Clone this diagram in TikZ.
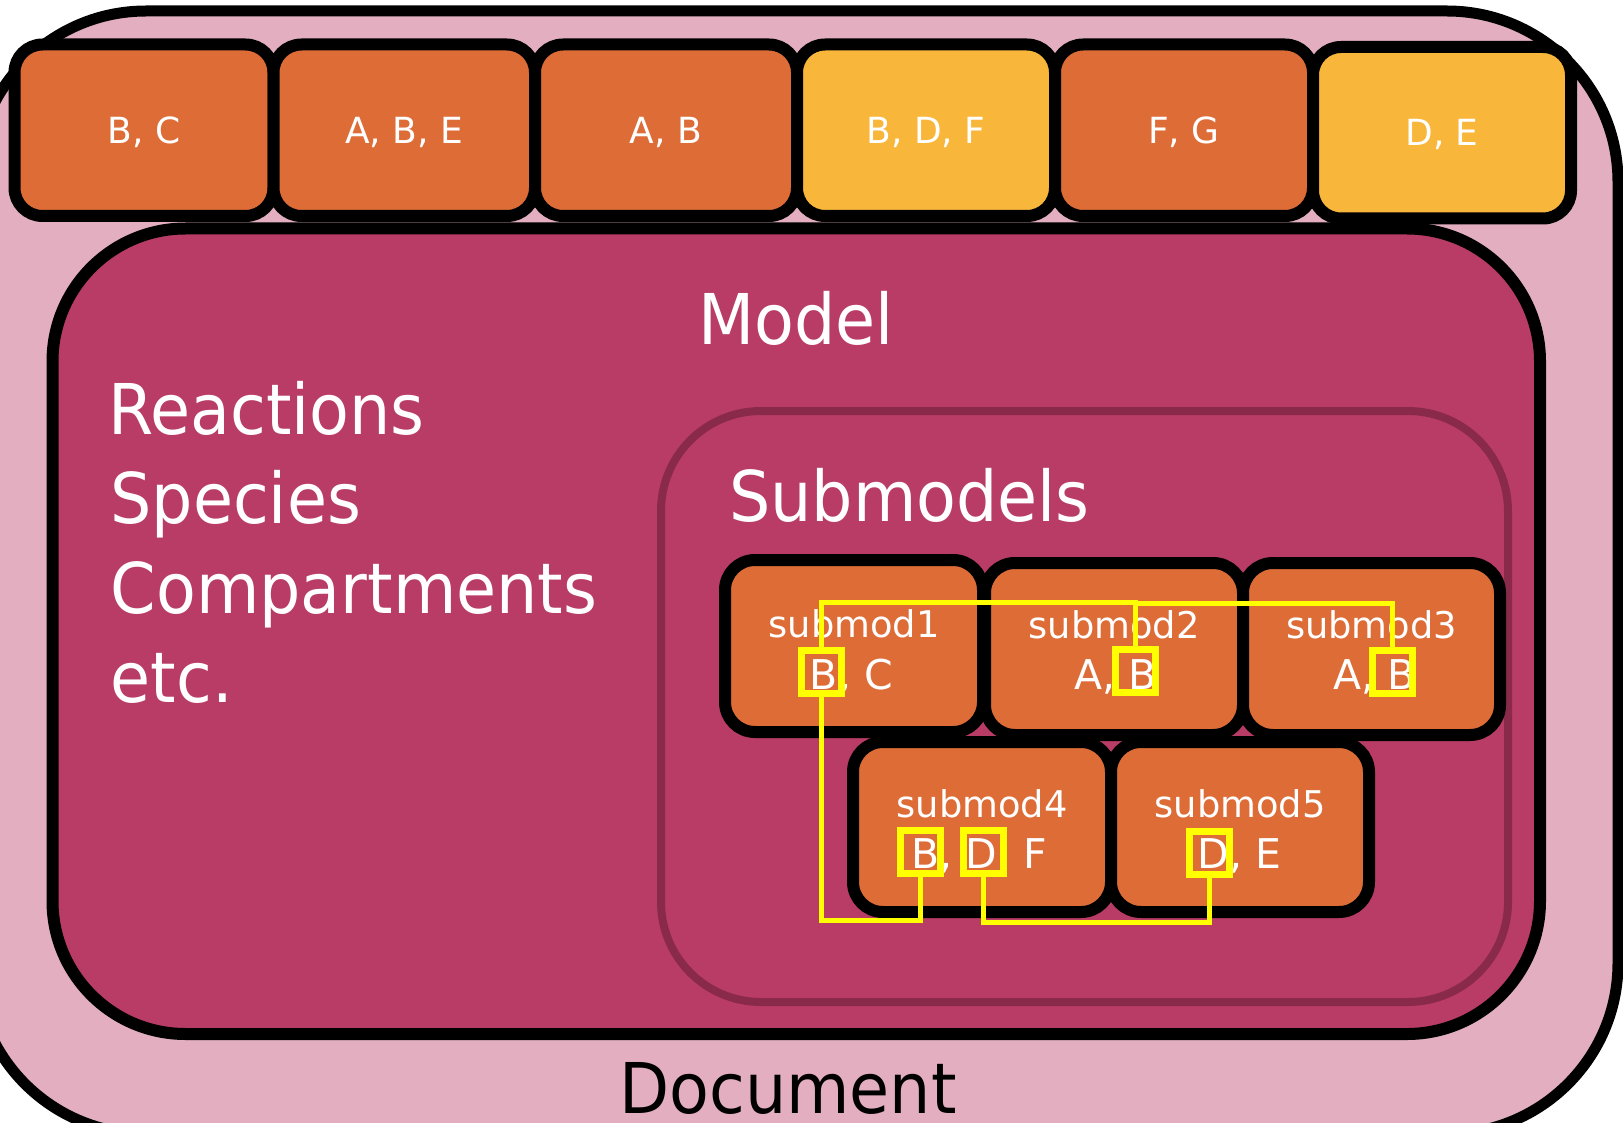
\documentclass[tikz,border=0pt]{standalone}
\usepackage{fontspec}
\newfontfamily\dvs{DejaVu Sans}
\newfontfamily\dvn[FakeStretch=0.93]{DejaVu Sans}
\usetikzlibrary{calc}
\definecolor{docpink}{RGB}{226,174,192}
\definecolor{modelred}{RGB}{185,60,102}
\definecolor{subedge}{RGB}{138,42,74}
\definecolor{orangebox}{RGB}{221,108,55}
\definecolor{yellowbox}{RGB}{248,182,58}
\definecolor{hlyellow}{RGB}{255,255,0}
\tikzset{
  container/.style={inner sep=0pt, outer sep=0pt},
  rbox/.style={draw=black, line width=6pt, rounded corners=14pt, inner sep=0pt, minimum height=85.75pt},
  topbox/.style={rbox, text=white, font=\dvs\fontsize{18pt}{20pt}\selectfont, text height=13.1pt, text depth=0pt},
  subbox/.style={rbox, rounded corners=15pt, fill=orangebox, minimum height=86pt},
  subname/.style={anchor=base, inner sep=0pt, text=white, font=\dvs\fontsize{18.4pt}{20pt}\selectfont},
  subvars/.style={anchor=base, inner sep=0pt, text=white, font=\dvs\fontsize{20.5pt}{22pt}\selectfont},
  bigtext/.style={inner sep=0pt, text=white, font=\dvn\fontsize{35pt}{42pt}\selectfont},
  hl/.style={draw=hlyellow, line width=3.5pt, minimum width=20pt, minimum height=21.5pt, inner sep=0pt},
  link/.style={draw=hlyellow, line width=2.5pt, line join=miter},
}
\begin{document}
\begin{tikzpicture}[x=0.5pt,y=-0.5pt]
\path[use as bounding box] (0,0) rectangle (1623,1123);
\clip (0,0) rectangle (1623,1123);
\fill[white] (0,0) rectangle (1623,1123);

% containers
\node[container, draw=black, line width=5.5pt, fill=docpink, rounded corners=85.5pt,
      minimum width=821.5pt, minimum height=561.5pt] (doc) at (796.5,572.5) {};
\node[container, draw=black, line width=6pt, fill=modelred, rounded corners=66.5pt,
      minimum width=743.75pt, minimum height=402.75pt] (modelbox) at (796.25,631.25) {};
\node[container, draw=subedge, line width=4pt, rounded corners=50pt,
      minimum width=423.5pt, minimum height=295.5pt] (subsbox) at (1084.5,706.5) {};

% top row
\node[topbox, fill=orangebox, minimum width=129.5pt]  (t1) at (144,130.25)    {B, C};
\node[topbox, fill=orangebox, minimum width=130.75pt] (t2) at (404.25,130.25) {A, B, E};
\node[topbox, fill=orangebox, minimum width=131pt]    (t3) at (666,130.25)    {A, B};
\node[topbox, fill=yellowbox, minimum width=129pt]    (t4) at (926,130.25)    {B, D, F};
\node[topbox, fill=orangebox, minimum width=129pt]    (t5) at (1184,130.25)   {F, G};
\node[topbox, fill=yellowbox, minimum width=129pt]    (t6) at (1442,132.75)   {D, E};

% big labels
\node[bigtext, anchor=base] (model) at (796,344) {Model};
\node[bigtext, anchor=base west] (reac) at (107.6,434) {Reactions};
\node[bigtext, anchor=base west] (spec) at (110,523) {Species};
\node[bigtext, anchor=base west] (comp) at (110.4,613) {Compartments};
\node[bigtext, anchor=base west] (etc) at (110.4,702) {etc.};
\node[bigtext, anchor=base west] (subm) at (728.8,521.5) {Submodels};
\node[bigtext, anchor=base, text=black] (doclab) at (788,1113) {Document};

% submodel boxes
\node[subbox, minimum width=129pt] (s1) at (854,646) {};
\node[subbox, minimum width=129pt] (s2) at (1114,649) {};
\node[subbox, minimum width=128.5pt] (s3) at (1371.5,649) {};
\node[subbox, minimum width=129pt, minimum height=85pt] (s4) at (982,827) {};
\node[subbox, minimum width=129pt, minimum height=85pt] (s5) at (1240,827) {};

\node[subname] (n1) at (854,637) {submod1};
\node[subname] (n2) at (1114,638.5) {submod2};
\node[subname] (n3) at (1371.5,638.5) {submod3};
\node[subname] (n4) at (982,817) {submod4};
\node[subname] (n5) at (1240,817) {submod5};

\node[subvars] (v1) at (851.4,689.5) {B, C};
\node[subvars] (v2) at (1115.8,689.5) {A, B};
\node[subvars] (v3) at (1374.3,689.5) {A, B};
\node[subvars] (v4) at (979.1,868) {B, D, F};
\node[subvars] (v5) at (1239.5,868) {D, E};

% highlights
\node[hl] (hB1) at (821,672) {};
\node[hl] (hB2) at (1135.5,671) {};
\node[hl] (hB3) at (1392,672) {};
\node[hl] (hB4) at (920.3,852) {};
\node[hl] (hD4) at (983.5,852) {};
\node[hl] (hD5) at (1209.5,853) {};

% connectors
\coordinate (ytop1) at (0,602.5);
\coordinate (ytop2) at (0,603.7);
\coordinate (ybot1) at (0,920.5);
\coordinate (ybot2) at (0,922.5);
\draw[link] (hB1.north) |- (ytop1 -| hB2.north) -- (hB2.north);
\draw[link] (ytop2 -| hB2.north) -| (hB3.north);
\draw[link] (hB1.south) |- (ybot1 -| hB4.south) -- (hB4.south);
\draw[link] (hD4.south) |- (ybot2 -| hD5.south) -- (hD5.south);
\end{tikzpicture}
\end{document}
